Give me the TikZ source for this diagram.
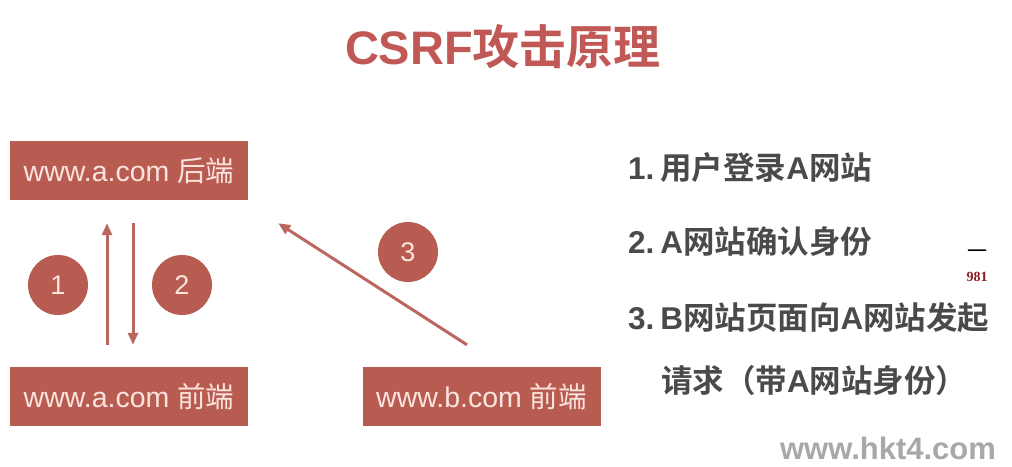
\documentclass[tikz,border=0pt]{standalone}
\usepackage{fontspec}
\setmainfont{Liberation Sans}
\newfontfamily\cjk{Noto Sans CJK SC}[BoldFont={Noto Sans CJK SC Bold}]
\newfontfamily\serifnum{Liberation Serif}
\usetikzlibrary{calc}
\usetikzlibrary{arrows.meta}
\definecolor{boxred}{HTML}{B85C52}
\definecolor{titlered}{HTML}{C05856}
\definecolor{arrowred}{HTML}{BC6660}
\definecolor{boxtext}{HTML}{FBE4DE}
\definecolor{listgray}{HTML}{4A4A4A}
\definecolor{markgray}{HTML}{A8A8A8}
\definecolor{numred}{HTML}{8A1E1E}
\tikzset{
  site/.style={fill=boxred, text=boxtext, minimum width=238pt, minimum height=59pt, inner sep=0pt, font=\fontsize{28.5}{30}\selectfont},
  badge/.style={circle, fill=boxred, text=boxtext, minimum size=60pt, inner sep=0pt, font=\fontsize{27}{28}\selectfont},
  flow/.style={draw=arrowred, line width=3pt, -{Triangle[length=12pt,width=10pt]}},
  listitem/.style={anchor=west, inner sep=0pt, text=listgray, font=\bfseries\fontsize{31.5}{34}\selectfont},
}

\begin{document}
\begin{tikzpicture}[x=1pt,y=-1pt]
\useasboundingbox (0,0) rectangle (1012,466);

\node[text=titlered, font=\bfseries\fontsize{47}{50}\selectfont] (title) at (503,47) {CSRF{\cjk 攻击原理}};

\node[site] (aback) at (129,170.5) {www.a.com {\cjk 后端}};
\node[site] (afront) at (129,396.5) {www.a.com {\cjk 前端}};
\node[site] (bfront) at (481.5,396.5) {www.b.com {\cjk 前端}};

\draw[flow] ($(afront.north)+(-22,-22)$) -- ($(aback.south)+(-22,23)$);
\draw[flow] ($(aback.south)+(4,23)$) -- ($(afront.north)+(4,-22)$);
\draw[flow] ($(bfront.north)+(-14.5,-22)$) -- ($(aback.south east)+(30,23)$);

\node[badge] (one) at (58,285) {1};
\node[badge] (two) at (182,285) {2};
\node[badge] (three) at (408,252) {3};

\node[listitem] (login) at (628,168) {1.\hspace{6pt}{\cjk 用户登录}A{\cjk 网站}};
\node[listitem] (confirm) at (628,242) {2.\hspace{6pt}A{\cjk 网站确认身份}};
\node[listitem] (request) at (628,318) {3.\hspace{6pt}B{\cjk 网站页面向}A{\cjk 网站发起}};
\node[listitem] (requestb) at (661,381) {{\cjk 请求（带}A{\cjk 网站身份）}};

\node[text=markgray, font=\bfseries\fontsize{31}{34}\selectfont] (mark) at (888,448) {www.hkt4.com};
\node[font=\cjk\fontsize{20}{22}\selectfont] (dash) at (977,254) {一};
\node[text=numred, font=\serifnum\bfseries\fontsize{14}{16}\selectfont] (num) at (977,277) {981};

\end{tikzpicture}
\end{document}
